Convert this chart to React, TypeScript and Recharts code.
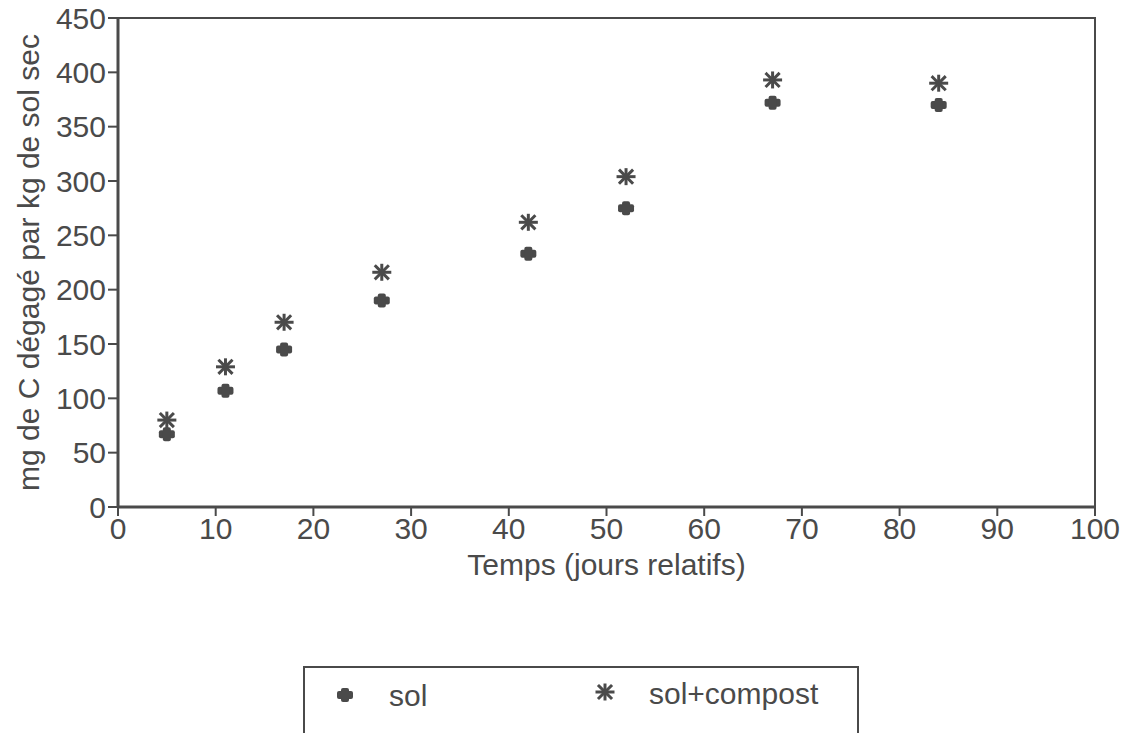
import {
  ScatterChart,
  Scatter,
  XAxis,
  YAxis,
  ReferenceArea,
} from "recharts";

const days = [5, 11, 17, 27, 42, 52, 67, 84];
const solValues = [67, 107, 145, 190, 233, 275, 372, 370];
const compostValues = [80, 129, 170, 216, 262, 304, 393, 390];
const xTicks = [0, 10, 20, 30, 40, 50, 60, 70, 80, 90, 100];
const yTicks = [0, 50, 100, 150, 200, 250, 300, 350, 400, 450];

const solData = days.map((d, i) => ({ x: d, y: solValues[i] }));
const compostData = days.map((d, i) => ({ x: d, y: compostValues[i] }));

const INK = "#4a4a4a";
const FONT = "'Liberation Sans', Arial, sans-serif";
const FS = 30;

function PlusMark({ cx, cy }: { cx?: number; cy?: number }) {
  if (cx == null || cy == null) return null;
  return (
    <g fill={INK}>
      <rect x={cx - 8} y={cy - 4} width={16} height={8} rx={2} />
      <rect x={cx - 4} y={cy - 7} width={8} height={14} rx={2} />
    </g>
  );
}

function StarMark({ cx, cy }: { cx?: number; cy?: number }) {
  if (cx == null || cy == null) return null;
  return (
    <g stroke={INK} strokeWidth={3} strokeLinecap="square">
      <line x1={cx - 8} y1={cy} x2={cx + 8} y2={cy} />
      <line x1={cx} y1={cy - 7} x2={cx} y2={cy + 7} />
      <line x1={cx - 6} y1={cy - 6} x2={cx + 6} y2={cy + 6} />
      <line x1={cx - 6} y1={cy + 6} x2={cx + 6} y2={cy - 6} />
    </g>
  );
}

function LegendBox() {
  const text = { fontSize: FS, fill: INK, fontFamily: FONT };
  return (
    <svg
      width={560}
      height={70}
      style={{ position: "absolute", left: 303, top: 666, display: "block" }}
    >
      <rect x={1} y={1} width={554} height={80} fill="none" stroke={INK} strokeWidth={2} />
      <PlusMark cx={42} cy={29} />
      <text x={86} y={40} {...text}>sol</text>
      <StarMark cx={302} cy={26} />
      <text x={346} y={38} {...text}>sol+compost</text>
    </svg>
  );
}

export default function App() {
  const tickStyle = { fontSize: FS, fill: INK, fontFamily: FONT };
  return (
    <div style={{ position: "absolute", left: 0, top: 0, background: "#fff", width: 1130, height: 733 }}>
      <ScatterChart
        width={1130}
        height={733}
        margin={{ top: 18, right: 35, bottom: 158, left: 56 }}
      >
        <XAxis
          type="number"
          dataKey="x"
          domain={[0, 100]}
          ticks={xTicks}
          height={68}
          tick={tickStyle}
          tickSize={9}
          tickLine={{ stroke: INK, strokeWidth: 2 }}
          axisLine={{ stroke: INK, strokeWidth: 3 }}
          label={{
            value: "Temps (jours relatifs)",
            position: "insideBottom",
            offset: 0,
            style: { fontSize: FS, fill: INK, fontFamily: FONT },
          }}
        />
        <YAxis
          type="number"
          dataKey="y"
          domain={[0, 450]}
          ticks={yTicks}
          width={62}
          tick={tickStyle}
          tickSize={10}
          tickLine={{ stroke: INK, strokeWidth: 2 }}
          axisLine={{ stroke: INK, strokeWidth: 3 }}
          label={{
            value: "mg de C dégagé par kg de sol sec",
            angle: -90,
            position: "insideLeft",
            offset: -28,
            style: { fontSize: FS, fill: INK, fontFamily: FONT, textAnchor: "middle" },
          }}
        />
        <ReferenceArea
          x1={0}
          x2={100}
          y1={0}
          y2={450}
          fill="none"
          fillOpacity={0}
          stroke={INK}
          strokeWidth={2}
          ifOverflow="visible"
        />
        <Scatter
          name="sol"
          data={solData}
          shape={PlusMark}
          isAnimationActive={false}
        />
        <Scatter
          name="sol+compost"
          data={compostData}
          shape={StarMark}
          isAnimationActive={false}
        />
      </ScatterChart>
      <LegendBox />
    </div>
  );
}
